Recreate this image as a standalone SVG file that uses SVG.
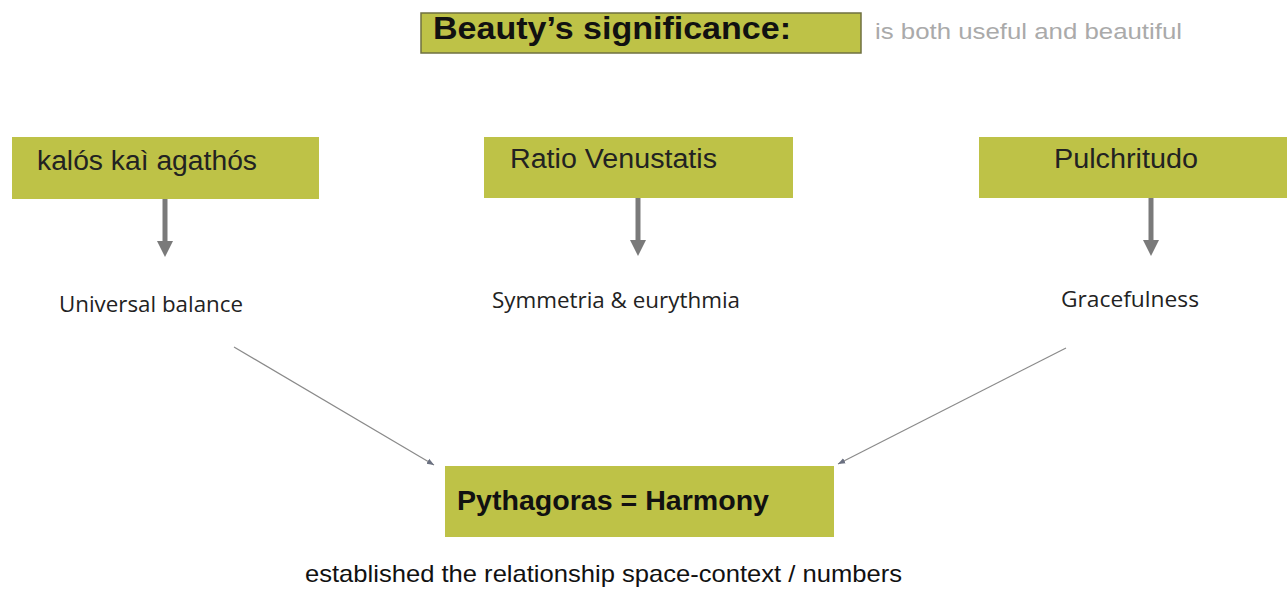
<svg xmlns="http://www.w3.org/2000/svg" width="1287" height="590" viewBox="0 0 1287 590">
<style>
.box{fill:#bec247;}
.hd{font-family:"Liberation Sans",Arial,sans-serif;font-size:27px;fill:#222;}
.sub{font-family:"Open Sans","Liberation Sans",sans-serif;font-size:21px;fill:#222;}
.bold{font-family:"Liberation Sans",Arial,sans-serif;font-weight:bold;fill:#111;}
.thick{stroke:#7a7a7a;stroke-width:5;fill:none;}
.thin{stroke:#8a8a8a;stroke-width:1.2;fill:none;}
</style>
<defs>
<marker id="th" viewBox="0 0 10 10" refX="10" refY="5" markerWidth="6" markerHeight="6" orient="auto" markerUnits="strokeWidth">
<path d="M0,1 L10,5 L0,9 Z" fill="#6a7080"/>
</marker>
</defs>
<rect width="1287" height="590" fill="#ffffff"/>
<g id="title">
<rect x="421" y="13" width="440" height="40" class="box" stroke="#6f7040" stroke-width="1.5"/>
<text x="433" y="39" class="bold" font-size="31" textLength="358" lengthAdjust="spacingAndGlyphs">Beauty’s significance:</text>
<text x="875" y="39" font-family="Liberation Sans,Arial,sans-serif" font-size="22" fill="#aaaaaa" textLength="307" lengthAdjust="spacingAndGlyphs">is both useful and beautiful</text>
</g>
<g id="node-kalos">
<rect x="12" y="137" width="307" height="62" class="box"/>
<text x="37" y="170" class="hd" textLength="220" lengthAdjust="spacingAndGlyphs">kalós kaì agathós</text>
</g>
<g id="node-ratio">
<rect x="484" y="137" width="309" height="61" class="box"/>
<text x="510" y="168" class="hd" textLength="207" lengthAdjust="spacingAndGlyphs">Ratio Venustatis</text>
</g>
<g id="node-pulchritudo">
<rect x="979" y="137" width="308" height="61" class="box"/>
<text x="1054" y="168" class="hd" textLength="144" lengthAdjust="spacingAndGlyphs">Pulchritudo</text>
</g>
<g id="label-universal"><text x="59" y="312" class="sub" textLength="184" lengthAdjust="spacingAndGlyphs">Universal balance</text></g>
<g id="label-symmetria"><text x="492" y="308" class="sub" textLength="248" lengthAdjust="spacingAndGlyphs">Symmetria &amp; eurythmia</text></g>
<g id="label-grace"><text x="1061" y="307" class="sub" textLength="138" lengthAdjust="spacingAndGlyphs">Gracefulness</text></g>
<g id="node-pythagoras">
<rect x="445" y="466" width="389" height="71" class="box"/>
<text x="457" y="510" class="bold" font-size="28" textLength="312" lengthAdjust="spacingAndGlyphs">Pythagoras = Harmony</text>
</g>
<g id="note"><text x="305" y="582" font-family="Liberation Sans,Arial,sans-serif" font-size="24" fill="#111" textLength="597" lengthAdjust="spacingAndGlyphs">established the relationship space-context / numbers</text></g>
<g id="connectors">
<path d="M165,199 V243" class="thick"/>
<path d="M157,241 L173,241 L165,257 Z" fill="#7a7a7a"/>
<path d="M638,198 V242" class="thick"/>
<path d="M630,240 L646,240 L638,256 Z" fill="#7a7a7a"/>
<path d="M1151,198 V242" class="thick"/>
<path d="M1143,240 L1159,240 L1151,256 Z" fill="#7a7a7a"/>
<line x1="234" y1="347" x2="434" y2="465" class="thin" marker-end="url(#th)"/>
<line x1="1066" y1="348" x2="838" y2="464" class="thin" marker-end="url(#th)"/>
</g>
</svg>
